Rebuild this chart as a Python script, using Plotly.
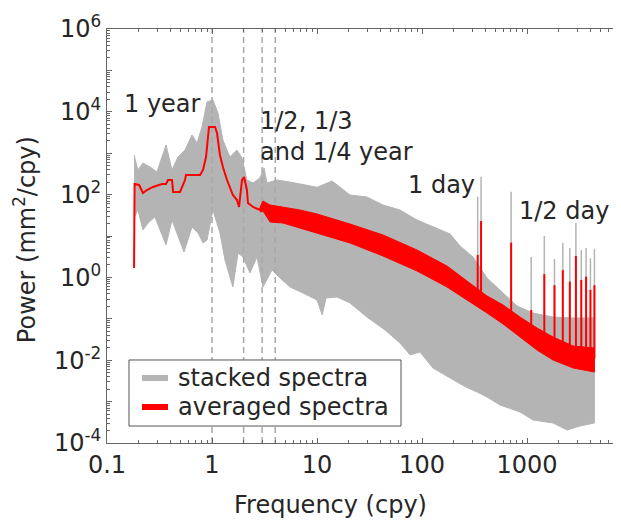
import plotly.graph_objects as go

# stacked spectra (gray) - upper and lower edge
stack_up_f = [0.181, 0.197, 0.220, 0.257, 0.299, 0.365, 0.416, 0.474, 0.553, 0.645,
              0.720, 0.803, 0.896, 1.02, 1.14, 1.27, 1.48, 1.73, 1.93, 2.15,
              2.46, 2.86, 3.13, 3.34, 4.16, 5.53, 10, 13.9, 20.6, 29.9,
              42.5, 61.7, 89.6, 127, 185, 230, 306, 416, 553, 803,
              1140, 1770, 2742, 4383]
stack_up_p = [905, 393, 580, 464, 352, 1580, 393, 809, 1190, 2750,
              1760, 4290, 17300, 19300, 9350, 2080, 809, 1190, 766, 225,
              191, 252, 440, 191, 225, 201, 150, 213, 97.8, 87.5,
              56.1, 42.4, 24.3, 16.5, 11.2, 5.73, 3.11, 0.968, 0.497, 0.204,
              0.138, 0.110, 0.105, 0.105]
stack_lo_f = [0.181, 0.197, 0.220, 0.246, 0.286, 0.365, 0.416, 0.541, 0.645, 0.736,
              0.821, 0.896, 1.02, 1.19, 1.33, 1.58, 1.77, 1.97, 2.30, 2.68,
              3.06, 3.73, 4.44, 5.53, 7.36, 10, 11.2, 12.2, 15.5, 20.6,
              29.9, 44.4, 61.7, 76.9, 95.7, 127, 185, 262, 334, 416,
              553, 858, 1140, 1770, 2404, 3199, 4383]
stack_lo_p = [27.2, 42.4, 14.0, 20.6, 28.8, 6.07, 24.3, 4.11, 16.5, 11.8,
              6.78, 8.0, 42.4, 11.8, 2.63, 0.586, 3.88, 3.11, 1.28, 3.11,
              0.586, 1.51, 0.968, 0.586, 0.420, 0.284, 0.124, 0.318, 0.336, 0.241,
              0.110, 0.0536, 0.026, 0.0134, 0.0158, 0.00649, 0.00372, 0.00225, 0.00171, 0.00129,
              0.000828, 0.000561, 0.00036, 0.000304, 0.000206, 0.000258, 0.000304]

# averaged spectrum (red), low frequency part
avg_f = [0.181, 0.183, 0.202, 0.220, 0.240, 0.274, 0.334, 0.365, 0.381, 0.416,
         0.426, 0.496, 0.553, 0.565, 0.769, 0.821, 0.877, 0.936, 1.068, 1.116,
         1.19, 1.27, 1.39, 1.48, 1.58, 1.73, 1.81, 1.93, 2.02, 2.15,
         2.20, 2.46, 2.86, 3.06, 3.27, 3.57]
avg_p = [1.69, 180, 171, 109, 129, 153, 180, 180, 225, 225,
         116, 116, 225, 297, 297, 393, 809, 4290, 4290, 3080,
         905, 464, 225, 153, 97.8, 74.1, 50.2, 225, 266, 129,
         62.7, 50.2, 42.4, 66.3, 42.4, 34.0]

# averaged spectrum (red), noisy band at higher frequency
band_f = [2.86, 3.06, 3.57, 4.74, 6.89, 10, 20.6, 42.5, 89.6, 173,
          286, 416, 591, 858, 1245, 1770, 2742, 4383]
band_hi = [48, 70, 56.1, 50.2, 42.4, 34.0, 19.5, 10.6, 4.59, 1.88,
           0.733, 0.356, 0.216, 0.110, 0.060, 0.0363, 0.022, 0.0197]
band_lo = [38, 40, 21.8, 20.6, 15.6, 11.8, 6.78, 3.29, 1.43, 0.586,
           0.255, 0.138, 0.0748, 0.0363, 0.0176, 0.0101, 0.00649, 0.00519]

# tidal / daily lines
tide_f = [339, 365, 706, 1096, 1461, 1826, 2192, 2557, 2922, 3287, 3652, 4018, 4383]
tide_gray = [89, 270, 117, 3.1, 10, 2.8, 6.9, 5.1, 21, 4.6, 5.1, 2.9, 4.9]
tide_red = [3.5, 23, 6.9, 0.163, 1.2, 0.65, 1.5, 0.79, 3.3, 0.87, 1.04, 0.5, 0.65]
tide_base = [0.35, 0.3, 0.09, 0.04, 0.025, 0.018, 0.015, 0.013, 0.011, 0.011, 0.011, 0.011, 0.011]

# seasonal periods marked with dashed lines (cpy)
period_f = [1, 2, 3, 4]

legend_names = ['stacked spectra', 'averaged spectra']

GRAY = '#b4b4b4'
RED = '#ff0000'
TXT = '#262626'
FONT = 'DejaVu Sans, Liberation Sans, Arial, sans-serif'
FS = 24


def spikes(f, base, top):
    xs, ys = [], []
    for a, b, c in zip(f, base, top):
        xs += [a, a, None]
        ys += [b, c, None]
    return xs, ys


fig = go.Figure()

# gray band
fig.add_trace(go.Scatter(x=stack_up_f + stack_lo_f[::-1], y=stack_up_p + stack_lo_p[::-1],
                         fill='toself', fillcolor=GRAY, mode='lines',
                         line=dict(color=GRAY, width=1), showlegend=False, hoverinfo='skip'))
gx, gy = spikes(tide_f, tide_base, tide_gray)
fig.add_trace(go.Scatter(x=gx, y=gy, mode='lines', line=dict(color=GRAY, width=1.5),
                         showlegend=False, hoverinfo='skip'))

# dashed period markers
dx, dy = spikes(period_f, [1e-4] * len(period_f), [1e6] * len(period_f))
fig.add_trace(go.Scatter(x=dx, y=dy, mode='lines',
                         line=dict(color='#a8a8a8', width=1.5, dash='6px,4px'),
                         showlegend=False, hoverinfo='skip'))

# red band + line + spikes
fig.add_trace(go.Scatter(x=band_f + band_f[::-1], y=band_hi + band_lo[::-1],
                         fill='toself', fillcolor=RED, mode='lines',
                         line=dict(color=RED, width=1), showlegend=False, hoverinfo='skip'))
fig.add_trace(go.Scatter(x=avg_f, y=avg_p, mode='lines', line=dict(color=RED, width=2),
                         showlegend=False))
rx, ry = spikes(tide_f, tide_base, tide_red)
fig.add_trace(go.Scatter(x=rx, y=ry, mode='lines', line=dict(color=RED, width=2),
                         showlegend=False, hoverinfo='skip'))

x_major = [0.1, 1, 10, 100, 1000]
x_minor = [m * 10 ** k for k in range(-1, 4) for m in range(2, 10)]
y_major = [10 ** k for k in range(-4, 7)]
y_text = ['10<sup>%d</sup>' % k if k % 2 == 0 else '' for k in range(-4, 7)]
y_minor = [m * 10 ** k for k in range(-4, 6) for m in range(2, 10)]

fig.update_xaxes(type='log', range=[-1, 3.895], tickvals=x_major,
                 ticktext=['0.1', '1', '10', '100', '1000'], automargin=False,
                 ticks='inside', ticklen=5, tickcolor='#666', showline=True,
                 linecolor='#666', linewidth=1, mirror='ticks', showgrid=False, zeroline=False,
                 minor=dict(tickvals=x_minor, ticks='inside', ticklen=3, tickcolor='#666', showgrid=False),
                 tickfont=dict(size=FS, color=TXT))
fig.update_yaxes(type='log', range=[-4, 6], tickvals=y_major, ticktext=y_text, automargin=False,
                 ticks='inside', ticklen=5, tickcolor='#666', showline=True,
                 linecolor='#666', linewidth=1, showgrid=False, zeroline=False,
                 minor=dict(tickvals=y_minor, ticks='inside', ticklen=3, tickcolor='#666', showgrid=False),
                 tickfont=dict(size=FS, color=TXT))

ann = dict(xref='paper', yref='paper', showarrow=False, font=dict(size=FS, color=TXT))
fig.add_annotation(text='1 year', x=0.029, y=0.818, xanchor='left', yanchor='middle', **ann)
fig.add_annotation(text='1/2, 1/3<br>and 1/4 year', x=0.294, y=0.741, xanchor='left',
                   yanchor='middle', align='left', **ann)
fig.add_annotation(text='1 day', x=0.581, y=0.622, xanchor='left', yanchor='middle', **ann)
fig.add_annotation(text='1/2 day', x=0.798, y=0.560, xanchor='left', yanchor='middle', **ann)
fig.add_annotation(text='Frequency (cpy)', x=0.434, y=-0.150, xanchor='center', yanchor='middle', **ann)
fig.add_annotation(text='Power (mm<sup>2</sup>/cpy)', x=-0.1595, y=0.49, textangle=-90,
                   xanchor='center', yanchor='middle', **ann)

# legend box drawn by hand so it matches the compact original
fig.add_shape(type='rect', xref='paper', yref='paper', x0=0.0428, x1=0.572, y0=0.041, y1=0.2005,
              fillcolor='white', line=dict(color='#555', width=1), layer='above')
for name, col, yy in zip(legend_names, [GRAY, RED], [0.157, 0.087]):
    fig.add_shape(type='line', xref='paper', yref='paper', x0=0.0681, x1=0.1187, y0=yy, y1=yy,
                  line=dict(color=col, width=6), layer='above')
    fig.add_annotation(text=name, x=0.134, y=yy, xanchor='left', yanchor='middle', **ann)

# the page body has an 8px default margin, so the plot area is offset by it
fig.update_layout(width=621, height=522, margin=dict(l=99, r=8, t=21, b=87, autoexpand=False),
                  plot_bgcolor='white', paper_bgcolor='white',
                  font=dict(family=FONT, size=FS, color=TXT),
                  showlegend=False)

fig.write_html("out.html")
